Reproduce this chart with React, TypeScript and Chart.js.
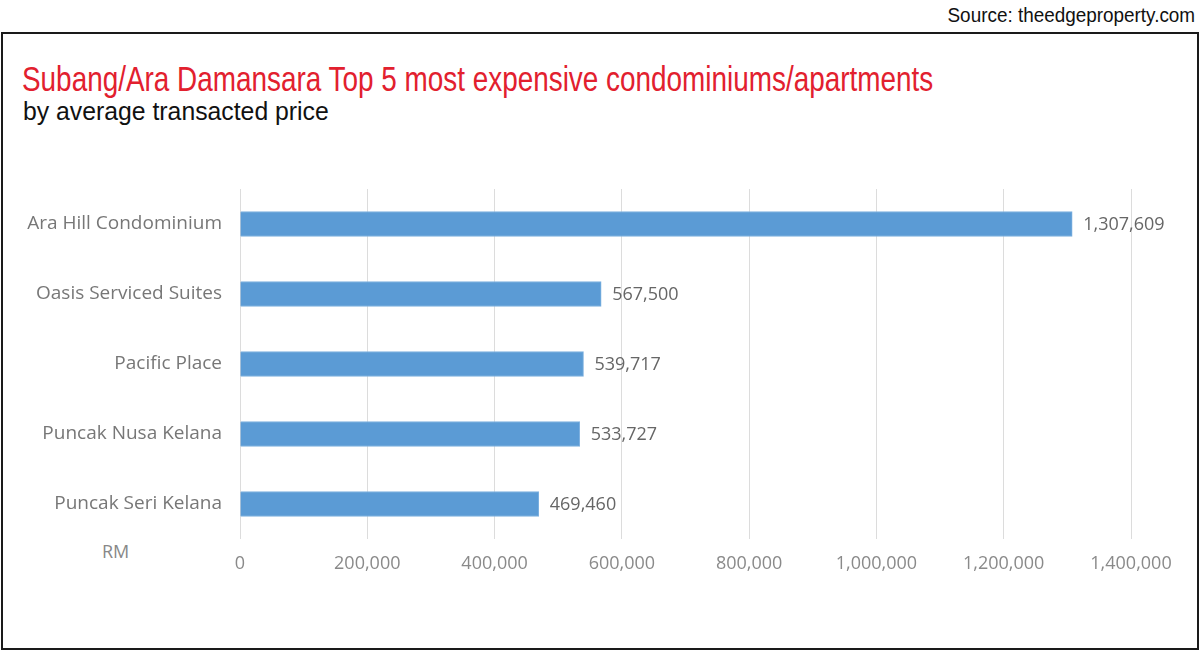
import React, { useEffect, useRef } from "react";
import { Chart, registerables } from "chart.js";

Chart.register(...registerables);

const categories = [
  "Ara Hill Condominium",
  "Oasis Serviced Suites",
  "Pacific Place",
  "Puncak Nusa Kelana",
  "Puncak Seri Kelana",
];
const prices = [1307609, 567500, 539717, 533727, 469460];
const xMax = 1400000;
const xStep = 200000;

const TITLE = "Subang/Ara Damansara Top 5 most expensive condominiums/apartments";
const SUBTITLE = "by average transacted price";
const SOURCE = "Source: theedgeproperty.com";
const UNIT = "RM";

const tickFont = "'Open Sans', sans-serif";
const narrow = "'Liberation Sans', Arial, sans-serif";

const valueLabels = {
  id: "valueLabels",
  afterDatasetsDraw(chart: any) {
    const ctx = chart.ctx;
    const meta = chart.getDatasetMeta(0);
    ctx.save();
    ctx.font = `18px ${tickFont}`;
    ctx.fillStyle = "#666666";
    ctx.textAlign = "left";
    ctx.textBaseline = "middle";
    meta.data.forEach((bar: any, i: number) => {
      const v = chart.data.datasets[0].data[i] as number;
      ctx.fillText(v.toLocaleString("en-US"), bar.x + 11, bar.y + 1);
    });
    ctx.restore();
  },
};

export default function App() {
  const ref = useRef<HTMLCanvasElement | null>(null);
  useEffect(() => {
    if (!ref.current) return;
    const chart = new Chart(ref.current, {
      type: "bar",
      data: {
        labels: categories,
        datasets: [
          {
            data: prices,
            backgroundColor: "#5b9bd5",
            borderColor: "#7fb2e0",
            borderWidth: 1,
            barThickness: 25,
          },
        ],
      },
      options: {
        indexAxis: "y",
        animation: false,
        responsive: false,
        devicePixelRatio: 1,
        layout: { padding: { top: 189, right: 69, left: 0, bottom: 0 } },
        plugins: { legend: { display: false }, tooltip: { enabled: false }, title: { display: false } },
        scales: {
          x: {
            min: 0,
            max: xMax,
            afterFit: (s: any) => {
              s.height = 111;
            },
            grid: { color: "#dcdcdc", drawTicks: false, lineWidth: 1 },
            border: { display: false },
            ticks: {
              stepSize: xStep,
              padding: 14,
              color: "#8a8a8a",
              font: { family: tickFont, size: 18 },
              callback: (v: any) => Number(v).toLocaleString("en-US"),
            },
          },
          y: {
            afterFit: (s: any) => {
              s.width = 240;
            },
            grid: { display: false },
            border: { display: false },
            ticks: {
              padding: 10,
              color: "#777777",
              font: { family: tickFont, size: 19 },
            },
          },
        },
      },
      plugins: [valueLabels],
    });
    return () => chart.destroy();
  }, []);

  return (
    <div style={{ position: "fixed", left: 0, top: 0, width: 1200, height: 650, background: "#fff", overflow: "hidden" }}>
      <div
        style={{
          position: "absolute",
          left: 1,
          top: 32,
          width: 1194,
          height: 614,
          border: "2px solid #1a1a1a",
        }}
      />
      <div
        style={{
          position: "absolute",
          right: 5,
          top: 3,
          fontFamily: narrow,
          fontSize: 21,
          color: "#111",
          whiteSpace: "nowrap",
          transform: "scaleX(0.9)",
          transformOrigin: "right top",
        }}
      >
        {SOURCE}
      </div>
      <div
        style={{
          position: "absolute",
          left: 22,
          top: 59,
          fontFamily: narrow,
          fontSize: 35,
          color: "#e2202e",
          whiteSpace: "nowrap",
          transform: "scaleX(0.797)",
          transformOrigin: "left top",
        }}
      >
        {TITLE}
      </div>
      <div
        style={{
          position: "absolute",
          left: 23,
          top: 96,
          fontFamily: narrow,
          fontSize: 26,
          color: "#111",
          whiteSpace: "nowrap",
          transform: "scaleX(0.953)",
          transformOrigin: "left top",
        }}
      >
        {SUBTITLE}
      </div>
      <div
        style={{
          position: "absolute",
          left: 102,
          top: 539,
          fontFamily: tickFont,
          fontSize: 18,
          color: "#888",
        }}
      >
        {UNIT}
      </div>
      <canvas ref={ref} width={1200} height={650} style={{ position: "absolute", left: 0, top: 0 }} />
    </div>
  );
}
